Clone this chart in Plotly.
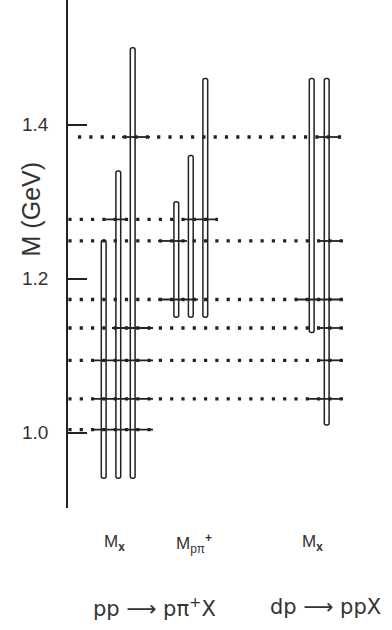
import plotly.graph_objects as go

# Narrow structures (GeV) marked by horizontal dotted lines
states = [1.004, 1.044, 1.094, 1.136, 1.173, 1.249, 1.277, 1.384]

# Explored mass ranges of each spectrum (GeV)
pp_mx_lo = [0.941, 0.941, 0.941]
pp_mx_hi = [1.250, 1.340, 1.500]
pp_mppi_lo = [1.150, 1.150, 1.150]
pp_mppi_hi = [1.300, 1.360, 1.460]
dp_mx_lo = [1.130, 1.010]
dp_mx_hi = [1.460, 1.460]

# Peaks seen in the spectra: (mass, x from, x to)
peak_marks = [
    (1.384, 122, 150), (1.277, 103, 128), (1.136, 112, 153),
    (1.094, 93, 153), (1.044, 93, 153), (1.004, 93, 153),
    (1.277, 183, 218), (1.249, 158, 187), (1.173, 158, 198),
    (1.384, 318, 340), (1.249, 320, 343), (1.173, 297, 343),
    (1.136, 320, 343), (1.094, 320, 343), (1.044, 308, 343),
]

tick_vals = [1.0, 1.2, 1.4]
tick_text = ["1.0", "1.2", "1.4"]
column_labels = ["M<sub><b>x</b></sub>", "M<sub>pπ</sub><sup><b>+</b></sup>", "M<sub><b>x</b></sub>"]
reaction_labels = ["pp\u00a0⟶\u00a0pπ<sup>+</sup>X", "dp\u00a0⟶\u00a0ppX"]
y_title = "M (GeV)"

# ---- layout parameters (horizontal axis measured in pixel-like units) ----
INK = "#222222"
TXT = "#333333"
FONT = "Liberation Sans, Arial, sans-serif"
WIDE_FONT = "DejaVu Sans, Liberation Sans, sans-serif"
line_span = {1.004: (68.4, 153), 1.044: (68.4, 343), 1.094: (68.4, 343),
             1.136: (68.4, 343), 1.173: (68.4, 343), 1.249: (68.4, 343),
             1.277: (68.4, 218), 1.384: (78.0, 343)}
bar_x = {
    "pp_mx": [103.7, 118.3, 132.7],
    "pp_mppi": [176.3, 190.8, 205.3],
    "dp_mx": [311.7, 326.7],
}
column_x = [114, 194, 312]
reaction_x = [154, 325]
HALF_W = 2.4          # half width of an outlined bar
PX_PER_GEV = 770.0
R_X, R_Y = 2.0, 2.0 / PX_PER_GEV
X_MIN, X_MAX = 68, 392

fig = go.Figure()

# dotted lines at each state
for m in states:
    x0, x1 = line_span[m]
    fig.add_trace(go.Scatter(
        x=[x0, x1], y=[m, m], mode="lines", hoverinfo="skip", showlegend=False,
        line=dict(color=INK, width=3.3, dash="3.2px,8.1px"),
    ))

# solid parts where a peak is observed
for m, x0, x1 in peak_marks:
    fig.add_trace(go.Scatter(
        x=[x0, x1], y=[m, m], mode="lines", hoverinfo="skip", showlegend=False,
        line=dict(color=INK, width=1.8),
    ))


def bar_path(xc, lo, hi):
    xl, xr = xc - HALF_W, xc + HALF_W
    return (f"M {xl},{lo + R_Y} L {xl},{hi - R_Y} Q {xl},{hi} {xl + R_X},{hi} "
            f"L {xr - R_X},{hi} Q {xr},{hi} {xr},{hi - R_Y} "
            f"L {xr},{lo + R_Y} Q {xr},{lo} {xr - R_X},{lo} "
            f"L {xl + R_X},{lo} Q {xl},{lo} {xl},{lo + R_Y} Z")


shapes = []
for key, lo_arr, hi_arr in [("pp_mx", pp_mx_lo, pp_mx_hi),
                            ("pp_mppi", pp_mppi_lo, pp_mppi_hi),
                            ("dp_mx", dp_mx_lo, dp_mx_hi)]:
    for xc, lo, hi in zip(bar_x[key], lo_arr, hi_arr):
        shapes.append(dict(type="path", xref="x", yref="y", path=bar_path(xc, lo, hi),
                           line=dict(color=INK, width=1.5), fillcolor="rgba(0,0,0,0)",
                           layer="above"))

annotations = []
for x, t in zip(column_x, column_labels):
    annotations.append(dict(x=x, y=0, xref="x", yref="paper", yshift=-35, text=t,
                            xanchor="center", yanchor="middle", showarrow=False,
                            font=dict(family=FONT, size=17, color=TXT)))
for x, t in zip(reaction_x, reaction_labels):
    annotations.append(dict(x=x, y=0, xref="x", yref="paper", yshift=-99, text=t,
                            xanchor="center", yanchor="middle", showarrow=False,
                            font=dict(family=WIDE_FONT, size=21, color=TXT)))
annotations.append(dict(x=(31 - X_MIN) / (X_MAX - X_MIN), y=1.29, xref="paper", yref="y",
                        text=y_title, textangle=-90, xanchor="center", yanchor="middle",
                        showarrow=False, font=dict(family=FONT, size=25, color=TXT)))

y_top = 1.4 + 124.7 / PX_PER_GEV
y_bot = y_top - 508 / PX_PER_GEV

fig.update_layout(
    width=392, height=630,
    margin=dict(l=X_MIN, r=0, t=0, b=122),
    paper_bgcolor="white", plot_bgcolor="white",
    shapes=shapes, annotations=annotations,
    xaxis=dict(range=[X_MIN, X_MAX], visible=False, fixedrange=True),
    yaxis=dict(range=[y_bot, y_top], showline=True, linecolor=INK, linewidth=1.5,
               ticks="inside", ticklen=19, tickwidth=1.5, tickcolor=INK,
               tickvals=tick_vals, ticktext=tick_text, showgrid=False, zeroline=False,
               ticklabelstandoff=14,
               tickfont=dict(family=FONT, size=19, color=TXT), fixedrange=True),
)

fig.write_html("out.html")
